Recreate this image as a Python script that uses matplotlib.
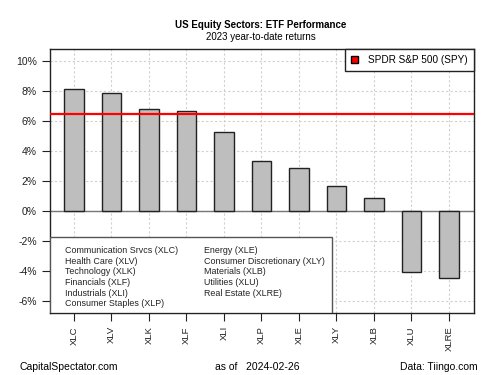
import matplotlib
matplotlib.use("Agg")
import matplotlib.pyplot as plt
from matplotlib.patches import Rectangle, Patch

plt.rcParams['font.family'] = ['Liberation Sans', 'DejaVu Sans']

# dados
tickers = ["XLC", "XLV", "XLK", "XLF", "XLI", "XLP", "XLE", "XLY", "XLB", "XLU", "XLRE"]
retornos = [8.11, 7.85, 6.78, 6.65, 5.25, 3.36, 2.87, 1.65, 0.88, -4.09, -4.45]
spy = 6.47
nomes_col1 = ["Communication Srvcs (XLC)", "Health Care (XLV)", "Technology (XLK)",
              "Financials (XLF)", "Industrials (XLI)", "Consumer Staples (XLP)"]
nomes_col2 = ["Energy (XLE)", "Consumer Discretionary (XLY)", "Materials (XLB)",
              "Utilities (XLU)", "Real Estate (XLRE)"]
yticks = [-6, -4, -2, 0, 2, 4, 6, 8, 10]

fig = plt.figure(figsize=(5, 3.75), dpi=100)
ax = fig.add_axes([0.1, 1 - 313/375, 0.848, (313 - 49)/375])

x = list(range(len(tickers)))
ax.bar(x, retornos, width=0.51, color="#bebebe", edgecolor="#222222", linewidth=1, zorder=3)
ax.axhline(0, color="#777777", lw=1, zorder=2)
ax.axhline(spy, color="red", lw=1.6, zorder=4)

ax.set_xlim(-0.64, 10.667)
ax.set_ylim(-6.8, 10.8)
ax.set_xticks(x)
ax.set_xticklabels(tickers, rotation=90, fontsize=6.8)
ax.set_yticks(yticks)
ax.set_yticklabels([f"{v}%" for v in yticks], fontsize=7.5)
ax.tick_params(length=5.5, width=0.8, pad=4, colors="#222222")
ax.grid(True, linestyle=(0, (2, 2)), color="#d0d0d0", lw=0.8, zorder=0)
for s in ax.spines.values():
    s.set_linewidth(1)
    s.set_color("#222222")

# legenda SPY
leg = ax.legend([Patch(facecolor="red", edgecolor="black")], ["SPDR S&P 500 (SPY)"],
                loc="upper right", fontsize=7.2, frameon=True, fancybox=False,
                borderaxespad=0, edgecolor="#222222", handlelength=0.75, handleheight=0.75,
                handletextpad=1.0, borderpad=0.6, framealpha=1)
leg.get_frame().set_linewidth(1)

# caixa com nomes dos setores
x0 = 0.0
x1 = (332 - 50) / 424
y1 = (313 - 237) / 264
ax.add_patch(Rectangle((x0, 0), x1, y1, transform=ax.transAxes, facecolor="white",
                       edgecolor="#555555", lw=1, zorder=5))
dy = 10.6 / 264
ytop = (313 - 250.7) / 264
for i, n in enumerate(nomes_col1):
    ax.text((65 - 50) / 424, ytop - i * dy, n, transform=ax.transAxes, fontsize=6.4,
            va="center", ha="left", color="#222222", zorder=6)
for i, n in enumerate(nomes_col2):
    ax.text((204 - 50) / 424, ytop - i * dy, n, transform=ax.transAxes, fontsize=6.4,
            va="center", ha="left", color="#222222", zorder=6)

fig.text(0.522, 1 - 25/375, "US Equity Sectors: ETF Performance", ha="center", va="center",
         fontsize=7, fontweight="bold")
fig.text(0.522, 1 - 37/375, "2023 year-to-date returns", ha="center", va="center", fontsize=7)

fig.text(20/500, 1 - 367/375, "CapitalSpectator.com", ha="left", va="center", fontsize=7.5)
fig.text(215/500, 1 - 367/375, "as of   2024-02-26", ha="left", va="center", fontsize=7.5)
fig.text(478/500, 1 - 367/375, "Data: Tiingo.com", ha="right", va="center", fontsize=7.5)

fig.savefig("out.png", dpi=100)
